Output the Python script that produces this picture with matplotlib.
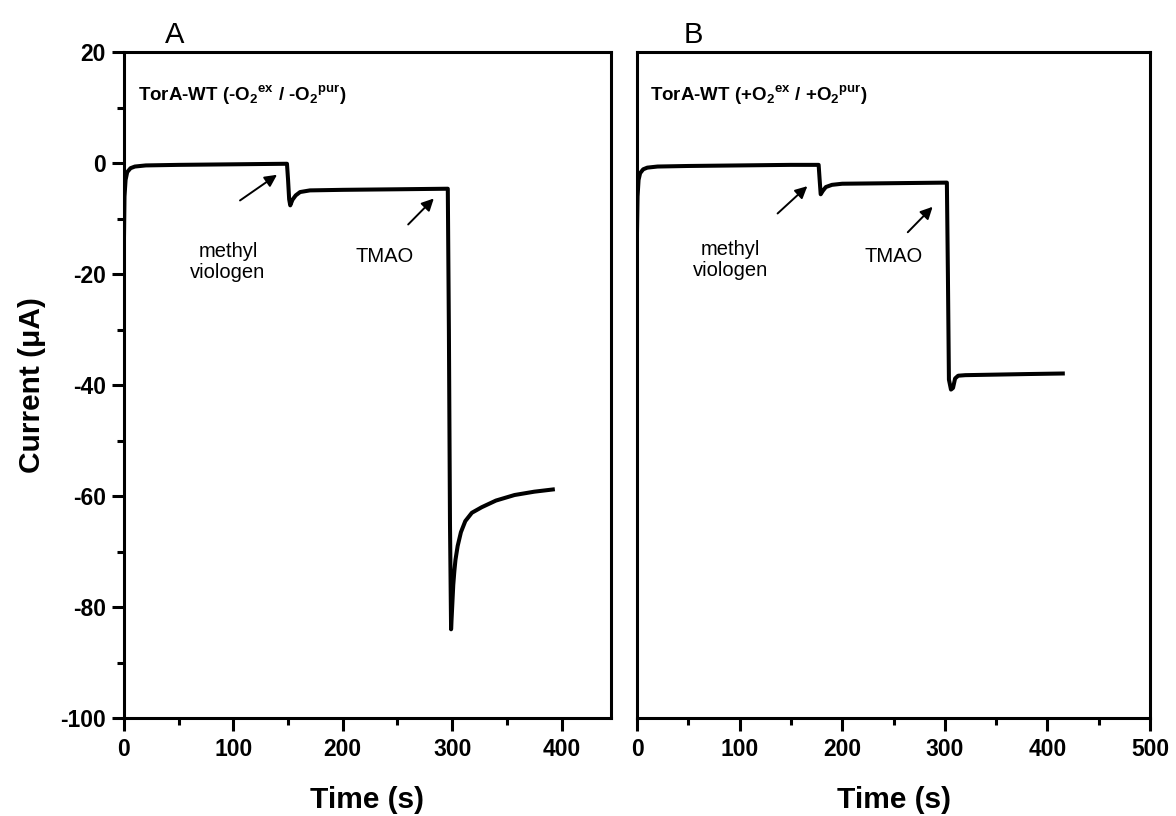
import matplotlib.pyplot as plt
from matplotlib.ticker import MultipleLocator

plt.rcParams['font.family'] = ['Liberation Sans', 'DejaVu Sans']
plt.rcParams['axes.unicode_minus'] = False
plt.rcParams['mathtext.fontset'] = 'custom'
plt.rcParams['mathtext.bf'] = 'Liberation Sans:bold'
plt.rcParams['mathtext.rm'] = 'Liberation Sans'

# panel A: TorA-WT (-O2ex / -O2pur)
time_a = [0, 0.5, 1.5, 3, 6, 10, 20, 50, 100, 149, 150, 151, 152, 154, 157, 161, 170, 200, 250, 296,
          297, 298, 299, 300, 301, 302, 303, 305, 308, 312, 318, 327, 340, 357, 375, 392]
current_a = [-14, -6, -3, -1.6, -0.9, -0.6, -0.4, -0.3, -0.2, -0.1, -3, -6.5, -7.6, -6.6, -5.8, -5.2, -4.9, -4.8, -4.7, -4.6,
             -30, -65, -84, -80, -76, -73.5, -71.5, -69, -66.5, -64.5, -63, -62, -60.8, -59.8, -59.2, -58.8]

# panel B: TorA-WT (+O2ex / +O2pur)
time_b = [0, 0.5, 1.5, 3, 6, 10, 20, 50, 100, 150, 177, 178, 179, 181, 184, 190, 200, 250, 302,
          303, 304, 306, 308, 310, 313, 320, 350, 380, 415]
current_b = [-12, -6, -3, -1.8, -1.1, -0.8, -0.6, -0.5, -0.4, -0.3, -0.3, -3, -5.6, -5, -4.3, -3.9, -3.7, -3.6, -3.5,
             -20, -39, -40.8, -40.5, -38.8, -38.3, -38.2, -38.1, -38.0, -37.9]

fig = plt.figure(figsize=(11.76, 8.16), dpi=100)
ax1 = fig.add_axes([0.1054, 0.120, 0.414, 0.816])
ax2 = fig.add_axes([0.5417, 0.120, 0.4362, 0.816])

for ax in (ax1, ax2):
    for s in ax.spines.values():
        s.set_linewidth(2.2)
    ax.set_ylim(-100, 20)
    ax.xaxis.set_major_locator(MultipleLocator(100))
    ax.xaxis.set_minor_locator(MultipleLocator(50))
    ax.tick_params(axis='x', which='major', direction='out', length=9, width=2.2,
                   labelsize=16.5, pad=5)
    ax.tick_params(axis='x', which='minor', direction='out', length=5, width=2.2)
    for lab in ax.get_xticklabels():
        lab.set_fontweight('bold')
    ax.set_xlabel('Time (s)', fontsize=21.5, fontweight='bold', labelpad=18)

ax1.set_xlim(0, 445)
ax2.set_xlim(0, 500)

ax1.yaxis.set_major_locator(MultipleLocator(20))
ax1.yaxis.set_minor_locator(MultipleLocator(10))
ax1.tick_params(axis='y', which='major', direction='out', length=9, width=2.2, labelsize=16.5, pad=4)
ax1.tick_params(axis='y', which='minor', direction='out', length=5, width=2.2)
for lab in ax1.get_yticklabels():
    lab.set_fontweight('bold')
ax1.set_ylabel('Current (μA)', fontsize=21.5, fontweight='bold', labelpad=10)
ax2.tick_params(axis='y', which='both', left=False, labelleft=False)

ax1.plot(time_a, current_a, color='black', lw=2.9, solid_joinstyle='round')
ax2.plot(time_b, current_b, color='black', lw=2.9, solid_joinstyle='round')

ax1.text(13, 12.3, r'TorA-WT (-O$_\mathbf{2}$$^\mathbf{ex}$ / -O$_\mathbf{2}$$^\mathbf{pur}$)',
         fontsize=13.5, fontweight='bold', va='center', ha='left')
ax2.text(13, 12.3, r'TorA-WT (+O$_\mathbf{2}$$^\mathbf{ex}$ / +O$_\mathbf{2}$$^\mathbf{pur}$)',
         fontsize=13.5, fontweight='bold', va='center', ha='left')

arrow = dict(arrowstyle='-|>', color='black', lw=1.4, mutation_scale=18)
ax1.annotate('', xy=(142, -1.8), xytext=(104, -7.0), arrowprops=arrow)
ax1.text(95, -17.8, 'methyl\nviologen', fontsize=14.5, ha='center', va='center', linespacing=1.15)
ax1.annotate('', xy=(285, -6.0), xytext=(258, -11.4), arrowprops=arrow)
ax1.text(238, -16.8, 'TMAO', fontsize=14.5, ha='center', va='center')

ax2.annotate('', xy=(168, -3.8), xytext=(135, -9.4), arrowprops=arrow)
ax2.text(91, -17.4, 'methyl\nviologen', fontsize=14.5, ha='center', va='center', linespacing=1.15)
ax2.annotate('', xy=(290, -7.5), xytext=(262, -12.8), arrowprops=arrow)
ax2.text(250, -16.8, 'TMAO', fontsize=14.5, ha='center', va='center')

fig.text(175 / 1176, 1 - 35 / 816, 'A', fontsize=21, ha='center', va='center')
fig.text(693 / 1176, 1 - 35 / 816, 'B', fontsize=21, ha='center', va='center')

fig.savefig('out.png', dpi=100)
